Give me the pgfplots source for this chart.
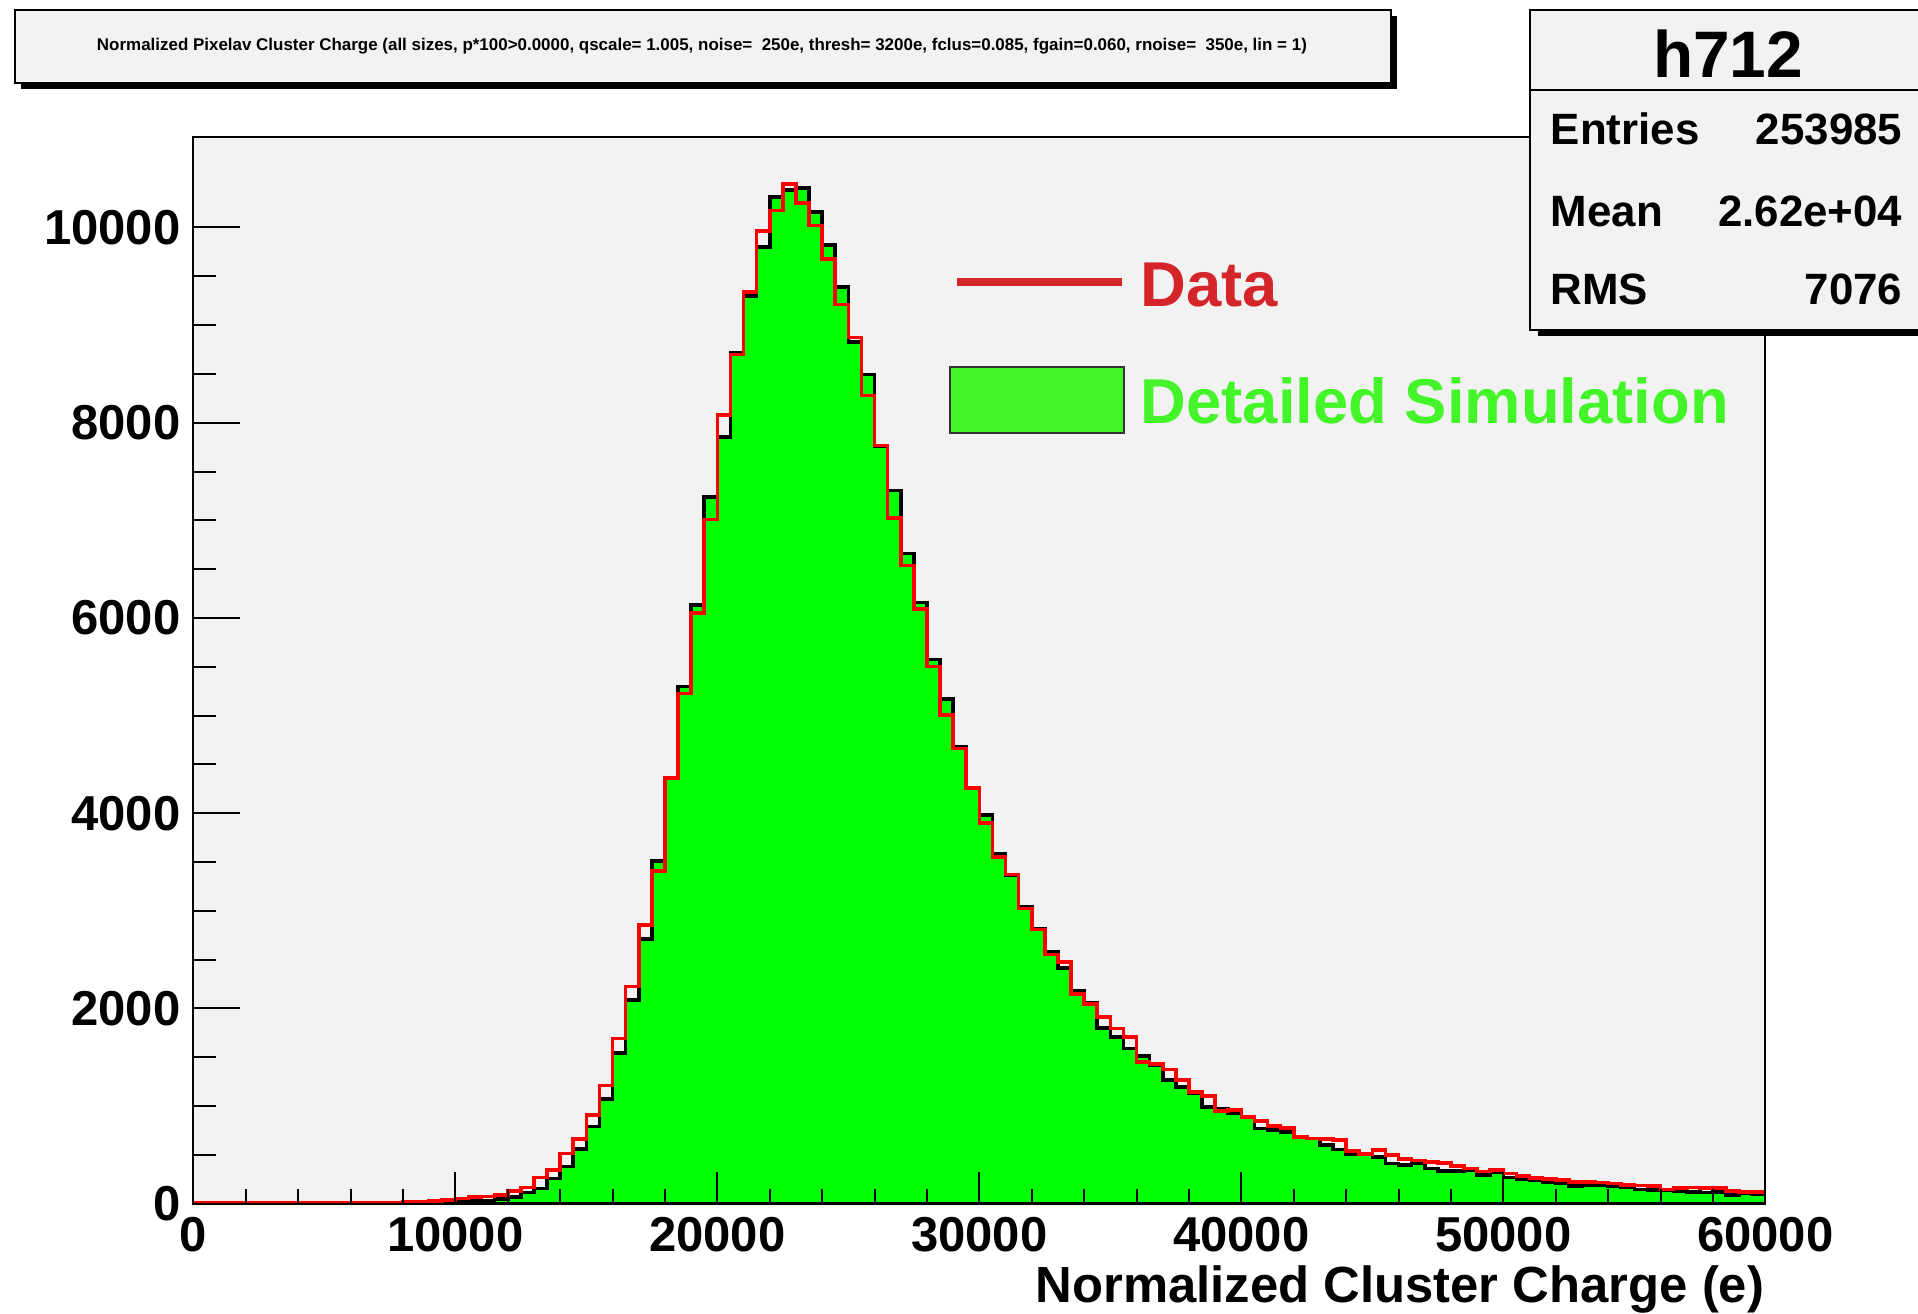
\documentclass[border=0pt]{standalone}
\usepackage{pgfplots}
\pgfplotsset{compat=1.18}
\usepackage{pgfplotstable}
\usepackage{graphicx}
\usepackage{fontspec}
\setmainfont{Liberation Sans}

\definecolor{plotbg}{RGB}{242,242,242}
\definecolor{boxbg}{RGB}{242,242,242}
\definecolor{histgreen}{RGB}{0,255,0}
\definecolor{histred}{RGB}{255,0,0}
\definecolor{legred}{RGB}{212,38,42}
\definecolor{leggreen}{RGB}{68,245,42}

% bin lower edge, detailed simulation (h712), data; 500 e bins
\pgfplotstableread{
x sim data
0 1 10
500 1 10
1000 1 10
1500 1 10
2000 1 10
2500 1 10
3000 1 10
3500 1 10
4000 1 10
4500 1 10
5000 1 10
5500 1 10
6000 1 10
6500 1 10
7000 2 11
7500 3 12
8000 4 15
8500 6 20
9000 9 28
9500 14 37
10000 18 52
10500 24 66
11000 32 72
11500 46 90
12000 70 128
12500 112 165
13000 156 268
13500 258 346
14000 380 512
14500 560 659
15000 790 907
15500 1070 1209
16000 1545 1690
16500 2085 2226
17000 2708 2854
17500 3509 3405
18000 4365 4359
18500 5298 5226
19000 6135 6052
19500 7239 7007
20000 7853 8082
20500 8717 8700
21000 9297 9338
21500 9799 9963
22000 10311 10174
22500 10386 10448
23000 10407 10249
23500 10157 10021
24000 9823 9680
24500 9389 9212
25000 8826 8871
25500 8495 8280
26000 7760 7768
26500 7307 7024
27000 6659 6539
27500 6160 6090
28000 5574 5501
28500 5169 5007
29000 4680 4663
29500 4260 4259
30000 3983 3902
30500 3579 3551
31000 3365 3372
31500 3045 3024
32000 2820 2808
32500 2580 2552
33000 2413 2474
33500 2185 2150
34000 2060 2042
34500 1800 1914
35000 1709 1795
35500 1590 1709
36000 1511 1453
36500 1419 1430
37000 1266 1375
37500 1197 1266
38000 1129 1146
38500 992 1102
39000 976 948
39500 931 958
40000 890 890
40500 771 849
41000 754 795
41500 736 777
42000 685 685
42500 668 668
43000 600 661
43500 556 651
44000 505 539
44500 505 508
45000 480 549
45500 412 498
46000 395 460
46500 412 440
47000 361 429
47500 337 419
48000 337 385
48500 344 361
49000 293 327
49500 317 344
50000 269 310
50500 249 283
51000 235 265
51500 218 252
52000 208 242
52500 180 224
53000 190 224
53500 190 218
54000 180 208
54500 167 190
55000 146 184
55500 139 180
56000 139 146
56500 132 157
57000 122 167
57500 112 157
58000 122 163
58500 88 132
59000 105 122
59500 95 116
60000 95 116
}\histtable

\begin{document}
\begin{tikzpicture}
\path[use as bounding box] (0,0) rectangle (479.5bp,-328.5bp);
\fill[white] (0,0) rectangle (479.5bp,-328.5bp);

% histograms and x ticks
\begin{axis}[
  at={(48.325bp,-300.9bp)}, anchor=south west,
  scale only axis, width=393bp, height=266.65bp,
  xmin=0, xmax=60000, ymin=0, ymax=10927,
  axis background/.style={fill=plotbg},
  axis line style={line width=0.5bp},
  axis on top,
  xtick={0,10000,...,60000},
  minor x tick num=4,
  xtick pos=bottom,
  ytick=\empty,
  tick align=inside,
  major tick length=8bp, minor tick length=3.75bp,
  every tick/.style={black, line width=0.5bp},
  xticklabel style={font=\fontsize{12.3}{14}\selectfont\bfseries, inner sep=0pt, yshift=-3.2bp},
  /pgf/number format/1000 sep={},
  /pgf/number format/assume math mode=true,
  scaled ticks=false,
]
\addplot[const plot, fill=histgreen, draw=black, line width=0.9bp] table[x=x, y=sim] {\histtable} \closedcycle;
\addplot[const plot, draw=histred, line width=0.9bp] table[x=x, y=data] {\histtable};
\end{axis}

% y ticks (longer, as on the left frame edge)
\begin{axis}[
  at={(48.325bp,-300.9bp)}, anchor=south west,
  scale only axis, width=393bp, height=266.65bp,
  xmin=0, xmax=60000, ymin=0, ymax=10927,
  axis line style={line width=0.5bp},
  xtick=\empty,
  ytick={0,2000,...,10000},
  minor y tick num=3,
  ytick pos=left,
  tick align=inside,
  major tick length=11.75bp, minor tick length=5.75bp,
  every tick/.style={black, line width=0.5bp},
  yticklabel style={font=\fontsize{12.3}{14}\selectfont\bfseries, inner sep=0pt, xshift=-3bp},
  /pgf/number format/1000 sep={},
  /pgf/number format/assume math mode=true,
  scaled ticks=false,
]
\end{axis}

\begin{scope}[x=0.25bp, y=-0.25bp]
  % title box
  \fill[black] (21,16) rectangle (1397,89);
  \filldraw[fill=boxbg, draw=black, line width=0.5bp] (15,10) rectangle (1391,83);
  \node[anchor=center, inner sep=0] at (702,46) {\resizebox{302.5bp}{!}{\bfseries Normalized Pixelav Cluster Charge (all sizes, p*100>0.0000, qscale= 1.005, noise=~~250e, thresh= 3200e, fclus=0.085, fgain=0.060, rnoise=~~350e, lin = 1)}};

  % statistics box
  \fill[black] (1538,16) rectangle (1932,336);
  \filldraw[fill=boxbg, draw=black, line width=0.5bp] (1530,10) rectangle (1926,330);
  \draw[black, line width=0.5bp] (1530,90) -- (1926,90);
  \node[anchor=base, inner sep=0] at (1728,77) {\fontsize{16.5}{18}\selectfont\bfseries h712};
  \node[anchor=base west, inner sep=0] at (1550,145) {\fontsize{11}{13}\selectfont\bfseries Entries};
  \node[anchor=base east, inner sep=0] at (1903,145) {\fontsize{11}{13}\selectfont\bfseries 253985};
  \node[anchor=base west, inner sep=0] at (1550,227) {\fontsize{11}{13}\selectfont\bfseries Mean};
  \node[anchor=base east, inner sep=0] at (1903,227) {\fontsize{11}{13}\selectfont\bfseries 2.62e+04};
  \node[anchor=base west, inner sep=0] at (1550,305) {\fontsize{11}{13}\selectfont\bfseries RMS};
  \node[anchor=base east, inner sep=0] at (1903,305) {\fontsize{11}{13}\selectfont\bfseries 7076};

  % legend
  \draw[legred, line width=2.1bp] (957,282) -- (1122,282);
  \node[anchor=base west, inner sep=0, text=legred] at (1140,307) {\fontsize{15.9}{18}\selectfont\bfseries Data};
  \filldraw[fill=leggreen, draw=black!80, line width=0.3bp] (950,367) rectangle (1124,433);
  \node[anchor=base west, inner sep=0, text=leggreen] at (1140,424) {\fontsize{15.9}{18}\selectfont\bfseries Detailed Simulation};

  % x axis title
  \node[anchor=base east, inner sep=0] at (1765,1303) {\fontsize{12.75}{15}\selectfont\bfseries Normalized Cluster Charge (e)};
\end{scope}
\end{tikzpicture}
\end{document}
